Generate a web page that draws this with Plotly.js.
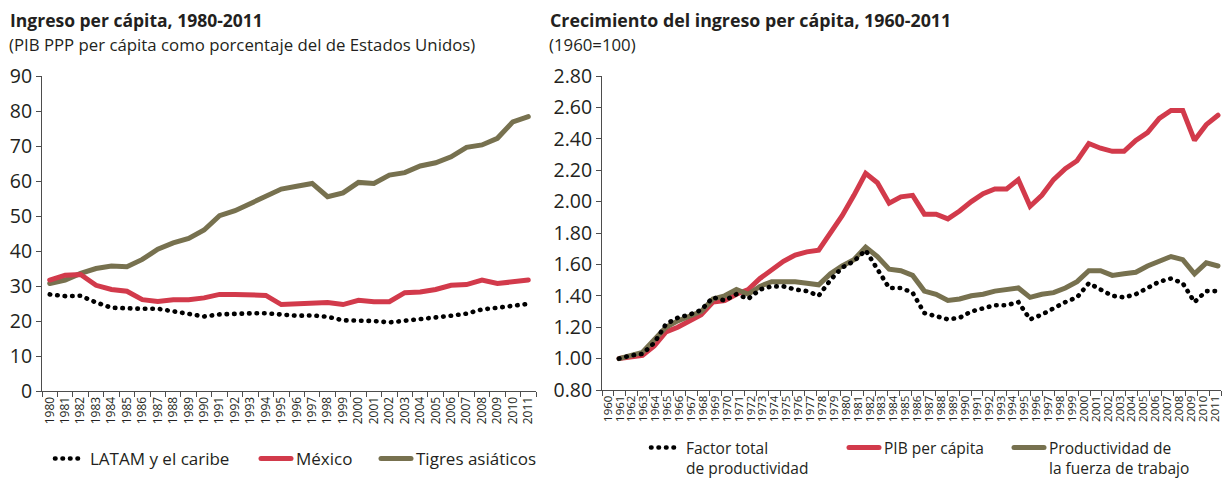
<!DOCTYPE html>
<html>
<head>
<meta charset="utf-8">
<script src="https://cdn.plot.ly/plotly-3.0.1.min.js"></script>
<style>
html,body{margin:0;padding:0;background:#fff}
#chart{width:1224px;height:480px}
#chart path.js-line{stroke-linecap:round}
</style>
</head>
<body>
<div id="chart"></div>
<script>
// ---- Left panel data: Ingreso per cápita 1980-2011 (% of USA) ----
const yearsLeft = ["1980","1981","1982","1983","1984","1985","1986","1987","1988","1989","1990","1991","1992","1993","1994","1995","1996","1997","1998","1999","2000","2001","2002","2003","2004","2005","2006","2007","2008","2009","2010","2011"];
const latam = [27.6,27.1,27.2,25.3,23.8,23.5,23.5,23.5,22.7,21.9,21.3,21.9,22.2,22.2,22.2,21.8,21.5,21.6,21.2,20.2,20.2,20.0,19.6,20.0,20.5,20.9,21.5,22.1,23.3,23.8,24.3,24.9];
const mexico = [31.7,33.1,33.3,30.2,29.0,28.5,26.1,25.6,26.1,26.1,26.6,27.6,27.6,27.3,27.3,24.7,24.9,25.2,25.3,24.7,25.9,25.5,25.5,28.1,28.3,29.0,30.2,30.4,31.7,30.7,31.2,31.7];
const tigres = [30.7,31.7,33.6,35.0,35.7,35.5,37.6,40.5,42.3,43.6,46.0,50.1,51.5,53.6,55.7,57.7,58.5,59.3,55.5,56.6,59.6,59.3,61.7,62.4,64.3,65.2,66.9,69.6,70.3,72.2,76.9,78.4];

// ---- Right panel data: Crecimiento del ingreso per cápita 1960-2011 (1960=1.00) ----
const yearsRight = [1960,1961,1962,1963,1964,1965,1966,1967,1968,1969,1970,1971,1972,1973,1974,1975,1976,1977,1978,1979,1980,1981,1982,1983,1984,1985,1986,1987,1988,1989,1990,1991,1992,1993,1994,1995,1996,1997,1998,1999,2000,2001,2002,2003,2004,2005,2006,2007,2008,2009,2010,2011];
const yearLabelsRight = yearsRight.map(String);
const pibPerCapita = [1.00,1.01,1.02,1.08,1.17,1.20,1.24,1.28,1.36,1.37,1.41,1.44,1.51,1.57,1.62,1.66,1.68,1.69,1.80,1.91,2.04,2.18,2.12,1.99,2.03,2.04,1.92,1.92,1.89,1.94,2.00,2.05,2.08,2.08,2.14,1.97,2.04,2.14,2.21,2.26,2.37,2.34,2.32,2.32,2.39,2.44,2.53,2.58,2.58,2.39,2.49,2.55];
const productividadTrabajo = [1.00,1.02,1.04,1.12,1.20,1.24,1.27,1.30,1.38,1.40,1.44,1.41,1.46,1.49,1.49,1.49,1.48,1.47,1.54,1.59,1.63,1.71,1.65,1.57,1.56,1.53,1.43,1.41,1.37,1.38,1.40,1.41,1.43,1.44,1.45,1.39,1.41,1.42,1.45,1.49,1.56,1.56,1.53,1.54,1.55,1.59,1.62,1.65,1.63,1.54,1.61,1.59];
const factorTotal = [1.00,1.02,1.03,1.10,1.22,1.26,1.28,1.31,1.39,1.37,1.41,1.38,1.44,1.46,1.46,1.44,1.43,1.40,1.50,1.58,1.62,1.69,1.57,1.45,1.45,1.42,1.29,1.27,1.25,1.26,1.30,1.32,1.34,1.34,1.36,1.25,1.28,1.32,1.36,1.39,1.48,1.44,1.40,1.39,1.41,1.45,1.49,1.51,1.48,1.36,1.43,1.43];

const RED = '#d23a4b', GREEN = '#77714f', BLACK = '#000000', TXT = '#231f20', AX = '#4d4d4d';
const W = 1224, H = 480;
const fx = v => v / W, fy = v => 1 - v / H;
const dotted = {color: BLACK, width: 4.6, dash: '0.5px,7px'};

const traces = [
  {x: yearsLeft, y: tigres, name: 'Tigres asiáticos', type: 'scatter', mode: 'lines', xaxis: 'x', yaxis: 'y',
   line: {color: GREEN, width: 5}, legend: 'legend3', hoverinfo: 'skip'},
  {x: yearsLeft, y: mexico, name: 'México', type: 'scatter', mode: 'lines', xaxis: 'x', yaxis: 'y',
   line: {color: RED, width: 5}, legend: 'legend2', hoverinfo: 'skip'},
  {x: yearsLeft, y: latam, name: 'LATAM y el caribe', type: 'scatter', mode: 'lines', xaxis: 'x', yaxis: 'y',
   line: dotted, legend: 'legend', hoverinfo: 'skip'},

  {x: yearsRight, y: pibPerCapita, name: 'PIB per cápita', type: 'scatter', mode: 'lines', xaxis: 'x2', yaxis: 'y2',
   line: {color: RED, width: 5}, legend: 'legend5', hoverinfo: 'skip'},
  {x: yearsRight, y: productividadTrabajo, name: 'Productividad de<br>la fuerza de trabajo', type: 'scatter', mode: 'lines', xaxis: 'x2', yaxis: 'y2',
   line: {color: GREEN, width: 5}, legend: 'legend6', hoverinfo: 'skip'},
  {x: yearsRight, y: factorTotal, name: 'Factor total<br>de productividad', type: 'scatter', mode: 'lines', xaxis: 'x2', yaxis: 'y2',
   line: dotted, legend: 'legend4', hoverinfo: 'skip'},
  // category label axis for the right panel (registers the year categories only)
  {x: yearLabelsRight, y: yearLabelsRight.map(() => null), type: 'scatter', mode: 'lines', xaxis: 'x3', yaxis: 'y2',
   showlegend: false, hoverinfo: 'skip'}
];

const axLine = {showline: true, linecolor: AX, linewidth: 1, ticks: 'outside', ticklen: 5, tickcolor: AX, tickwidth: 1,
  showgrid: false, zeroline: false, automargin: false, fixedrange: true};

const leg = (xPix, yPix, anchor, size) => ({orientation: 'h', x: fx(xPix), xanchor: 'left', y: fy(yPix), yanchor: anchor,
  valign: 'top', font: {size: size, color: TXT}, bgcolor: 'rgba(0,0,0,0)', borderwidth: 0, itemwidth: 30});

const layout = {
  width: W, height: H,
  margin: {l: 0, r: 0, t: 0, b: 0, autoexpand: false},
  paper_bgcolor: '#ffffff', plot_bgcolor: 'rgba(0,0,0,0)',
  font: {family: '"Open Sans", sans-serif', color: TXT},
  showlegend: true,
  xaxis: Object.assign({}, axLine, {domain: [fx(42), fx(536)], anchor: 'y', type: 'category',
    range: [-0.5, 31.5], tickson: 'boundaries', tickmode: 'linear', dtick: 1, tickangle: -90, tickfont: {size: 12, color: TXT}}),
  yaxis: Object.assign({}, axLine, {domain: [fy(391), fy(76)], anchor: 'x', range: [0, 90], dtick: 10,
    tickfont: {size: 19.5, color: TXT}}),
  xaxis2: {domain: [fx(602), fx(1221)], anchor: 'y2', type: 'linear', range: [1958.553, 2011.255],
    visible: false, fixedrange: true},
  xaxis3: Object.assign({}, axLine, {overlaying: 'x2', anchor: 'y2', type: 'category', range: [-0.5, 51.5],
    tickson: 'boundaries', tickmode: 'linear', dtick: 1, tickangle: -90, tickfont: {size: 11.5, color: TXT}}),
  yaxis2: Object.assign({}, axLine, {domain: [fy(390), fy(76)], anchor: 'x2', range: [0.8, 2.8], dtick: 0.2,
    tickformat: '.2f', tickfont: {size: 19.5, color: TXT}}),
  legend:  leg(50, 459, 'middle', 17),
  legend2: leg(256, 459, 'middle', 17),
  legend3: leg(376, 459, 'middle', 17),
  legend4: leg(646, 431, 'top', 15.5),
  legend5: leg(844, 431, 'top', 15.5),
  legend6: leg(1009, 431, 'top', 15.5),
  annotations: [
    {text: '<b>Ingreso per cápita, 1980-2011</b>', xref: 'paper', yref: 'paper', x: fx(8), y: fy(6),
     xanchor: 'left', yanchor: 'top', showarrow: false, font: {size: 17.5, color: TXT}},
    {text: '(PIB PPP per cápita como porcentaje del de Estados Unidos)', xref: 'paper', yref: 'paper', x: fx(7), y: fy(31),
     xanchor: 'left', yanchor: 'top', showarrow: false, font: {size: 16.8, color: TXT}},
    {text: '<b>Crecimiento del ingreso per cápita, 1960-2011</b>', xref: 'paper', yref: 'paper', x: fx(548), y: fy(6),
     xanchor: 'left', yanchor: 'top', showarrow: false, font: {size: 17.8, color: TXT}},
    {text: '(1960=100)', xref: 'paper', yref: 'paper', x: fx(547), y: fy(31),
     xanchor: 'left', yanchor: 'top', showarrow: false, font: {size: 16.8, color: TXT}}
  ]
};

Plotly.newPlot('chart', traces, layout, {staticPlot: true, displayModeBar: false});
</script>
</body>
</html>
